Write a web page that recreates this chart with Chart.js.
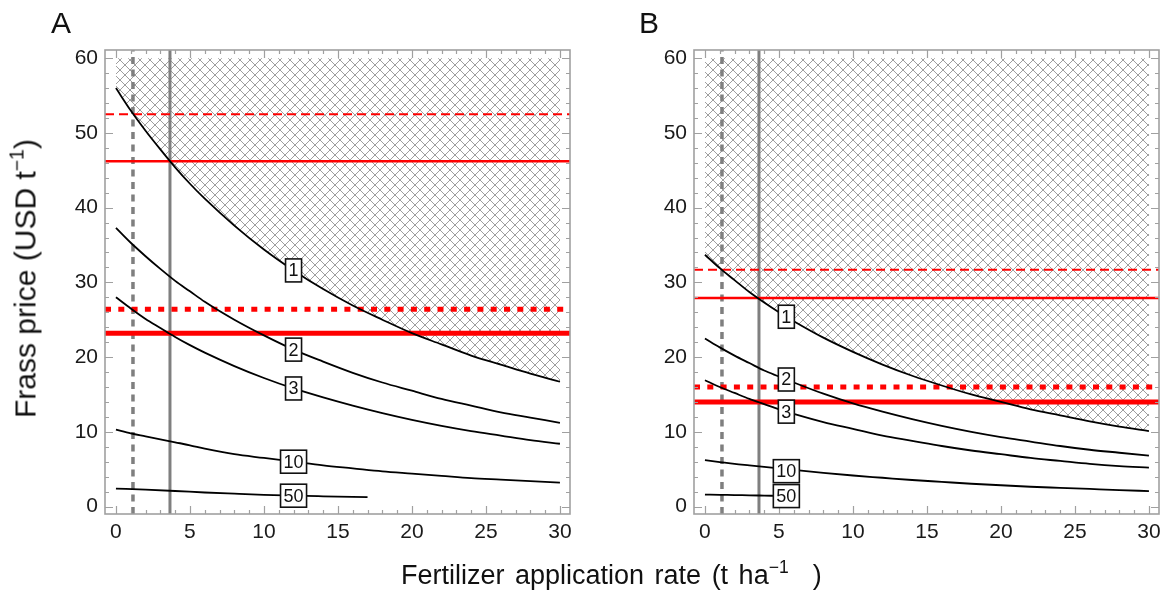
<!DOCTYPE html>
<html>
<head>
<meta charset="utf-8">
<script src="https://cdn.jsdelivr.net/npm/chart.js@4.4.1/dist/chart.umd.min.js"></script>
<style>
  body { margin: 0; background: #fff; }
  #wrap { position: relative; width: 1166px; height: 590px; font-family: "Liberation Sans", Arial, sans-serif; color: #111; }
  canvas { position: absolute; top: 0; }
  .panel { position: absolute; top: 8px; font-size: 30px; line-height: 30px; }
  .sup { font-size: 0.65em; position: relative; top: -0.6em; }
  #ytitle { position: absolute; left: -128px; top: 261px; width: 310px; text-align: center; font-size: 30px; line-height: 32px; white-space: nowrap; transform: rotate(-90deg); }
  #xtitle { position: absolute; left: 401px; top: 559px; font-size: 27px; line-height: 32px; white-space: nowrap; word-spacing: 3px; }
</style>
</head>
<body>
<div id="wrap">
  <canvas id="chartA" width="583" height="590" style="left:0"></canvas>
  <canvas id="chartB" width="583" height="590" style="left:583px"></canvas>
  <div class="panel" style="left:51px">A</div>
  <div class="panel" style="left:639px">B</div>
  <div id="ytitle">Frass price (USD t<span class="sup">−1</span>)</div>
  <div id="xtitle">Fertilizer application rate (t ha<span class="sup">−1</span><span style="margin-left:24px">)</span></div>
</div>
<script>
// application rate samples (t/ha)
const xs = [0, 1, 2, 3, 4, 5, 6, 8, 10, 12, 14, 16, 18, 20, 22, 24, 26, 28, 30];

// panel A curves (break-even frass price, USD/t)
const curveA1 = [56, 53.0, 50.3, 47.8, 45.4, 43.2, 41.2, 37.6, 34.4, 31.6, 29.1, 26.9, 25.0, 23.2, 21.7, 20.2, 19.0, 17.8, 16.7];
const curveA2 = [37.3, 35.3, 33.5, 31.8, 30.2, 28.8, 27.4, 25.0, 22.9, 21.0, 19.4, 17.9, 16.6, 15.5, 14.4, 13.5, 12.6, 11.9, 11.2];
const curveA3 = [28.0, 26.5, 25.1, 23.9, 22.7, 21.6, 20.6, 18.8, 17.2, 15.8, 14.6, 13.5, 12.5, 11.6, 10.8, 10.1, 9.5, 8.9, 8.4];
const curveA10 = [10.3, 9.8, 9.4, 9.0, 8.6, 8.2, 7.75, 7.0, 6.5, 6.0, 5.5, 5.1, 4.7, 4.4, 4.1, 3.8, 3.6, 3.4, 3.2];
const xsA50 = [0, 2, 4, 6, 8, 10, 12, 14, 17];
const curveA50 = [2.4, 2.25, 2.08, 1.88, 1.72, 1.57, 1.45, 1.37, 1.27];

// panel B curves
const curveB1 = [33.7, 31.9, 30.3, 28.7, 27.3, 26.0, 24.8, 22.6, 20.7, 19.0, 17.5, 16.2, 15.0, 14.0, 13.0, 12.2, 11.4, 10.7, 10.1];
const curveB2 = [22.5, 21.3, 20.2, 19.2, 18.2, 17.4, 16.6, 15.1, 13.8, 12.7, 11.7, 10.8, 10.0, 9.3, 8.7, 8.1, 7.6, 7.2, 6.8];
const curveB3 = [16.9, 16.0, 15.2, 14.4, 13.7, 13.0, 12.4, 11.3, 10.4, 9.5, 8.8, 8.1, 7.5, 7.0, 6.5, 6.1, 5.7, 5.4, 5.2];
const curveB10 = [6.2, 5.95, 5.7, 5.5, 5.3, 5.1, 4.9, 4.5, 4.15, 3.85, 3.55, 3.3, 3.05, 2.85, 2.65, 2.5, 2.35, 2.2, 2.07];
const xsB50 = [0, 1, 2, 3, 4, 5, 5.5];
const curveB50 = [1.6, 1.57, 1.53, 1.5, 1.46, 1.42, 1.4];

const curveNames = ['1', '2', '3', '10', '50'];

// horizontal red price lines: thin dashed, thin solid, thick dotted, thick solid
const redA = [52.5, 46.2, 26.4, 23.2];
const redB = [31.7, 27.9, 16.0, 14.0];
// vertical gray rate lines: dashed, solid
const rates = [1.15, 3.65];

const hatchTop = 60;
const xTicks = [0, 5, 10, 15, 20, 25, 30];
const yTicks = [0, 10, 20, 30, 40, 50, 60];
const xMin = -0.74, xMax = 30.68, yMin = -1, yMax = 61.1;

function hatch() {
    const s = 10;
    const c = document.createElement('canvas');
    c.width = s; c.height = s;
    const g = c.getContext('2d');
    g.strokeStyle = 'rgba(110,110,110,0.75)';
    g.lineWidth = 0.9;
    g.beginPath();
    g.moveTo(-1, -1); g.lineTo(s + 1, s + 1);
    g.moveTo(s + 1, -1); g.lineTo(-1, s + 1);
    g.stroke();
    return g.createPattern(c, 'repeat');
}

const pts = (xv, yv) => xv.map((x, i) => ({ x: x, y: yv[i] }));

// frame + inward ticks on all four sides
const framePlugin = {
    id: 'frame',
    afterDatasetsDraw(chart) {
        const { ctx, chartArea: a, scales: { x, y } } = chart;
        ctx.save();
        ctx.strokeStyle = '#a0a0a0';
        ctx.lineWidth = 1.2;
        ctx.beginPath();
        for (let v = 0; v <= 30; v++) {
            const px = Math.round(x.getPixelForValue(v)) + 0.5;
            const len = v % 5 === 0 ? 8 : 4;
            ctx.moveTo(px, a.bottom); ctx.lineTo(px, a.bottom - len);
            ctx.moveTo(px, a.top); ctx.lineTo(px, a.top + len);
        }
        for (let v = 0; v <= 60; v += 2) {
            const py = Math.round(y.getPixelForValue(v)) + 0.5;
            const len = v % 10 === 0 ? 8 : 4;
            ctx.moveTo(a.left, py); ctx.lineTo(a.left + len, py);
            ctx.moveTo(a.right, py); ctx.lineTo(a.right - len, py);
        }
        ctx.stroke();
        ctx.lineWidth = 1.6;
        ctx.strokeRect(a.left, a.top, a.right - a.left, a.bottom - a.top);
        ctx.restore();
    }
};

// boxed curve labels
const labelPlugin = {
    id: 'curveLabels',
    afterDatasetsDraw(chart, args, opts) {
        const { ctx, scales: { x, y } } = chart;
        ctx.save();
        ctx.font = '18px "Liberation Sans", Arial, sans-serif';
        ctx.textAlign = 'center';
        ctx.textBaseline = 'middle';
        opts.curves.forEach((c, i) => {
            const lx = Math.min(opts.at, c.xs[c.xs.length - 1]);
            let ly = c.ys[c.ys.length - 1];
            for (let k = 1; k < c.xs.length; k++) {
                if (c.xs[k] >= lx) {
                    const t = (lx - c.xs[k - 1]) / (c.xs[k] - c.xs[k - 1]);
                    ly = c.ys[k - 1] + t * (c.ys[k] - c.ys[k - 1]);
                    break;
                }
            }
            const px = x.getPixelForValue(lx), py = y.getPixelForValue(ly) + (opts.shift[i] || 0);
            const w = ctx.measureText(c.name).width + 6, h = 23;
            ctx.fillStyle = '#fff';
            ctx.fillRect(px - w / 2, py - h / 2, w, h);
            ctx.strokeStyle = '#111';
            ctx.lineWidth = 1.6;
            ctx.strokeRect(px - w / 2, py - h / 2, w, h);
            ctx.fillStyle = '#111';
            ctx.fillText(c.name, px, py + 1);
        });
        ctx.restore();
    }
};

function makePanel(id, curves, red, yAxisWidth, rightPad, labelAt, shift) {
    const ctx = document.getElementById(id).getContext('2d');
    const datasets = [];
    curves.forEach((c, i) => {
        datasets.push({
            data: pts(c.xs, c.ys),
            borderColor: '#000',
            borderWidth: 1.8,
            cubicInterpolationMode: 'monotone',
            fill: i === 0 ? { value: hatchTop } : false,
            backgroundColor: i === 0 ? hatch() : 'transparent',
            order: 1
        });
    });
    const redStyles = [
        { w: 2, dash: [9, 5] },
        { w: 2.5, dash: [] },
        { w: 5, dash: [6, 7.3] },
        { w: 5, dash: [] }
    ];
    red.forEach((v, i) => {
        datasets.push({
            data: [{ x: xMin, y: v }, { x: xMax, y: v }],
            borderColor: '#ff0000',
            borderWidth: redStyles[i].w,
            borderDash: redStyles[i].dash,
            borderCapStyle: 'butt',
            fill: false,
            order: 2
        });
    });
    rates.forEach((v, i) => {
        datasets.push({
            data: [{ x: v, y: yMin }, { x: v, y: yMax }],
            borderColor: '#7f7f7f',
            borderWidth: i === 0 ? 3.5 : 3,
            borderDash: i === 0 ? [7, 5.5] : [],
            borderCapStyle: 'butt',
            fill: false,
            order: 3
        });
    });

    return new Chart(ctx, {
        type: 'line',
        data: { datasets: datasets },
        plugins: [framePlugin, labelPlugin],
        options: {
            responsive: false,
            animation: false,
            elements: { point: { radius: 0 } },
            layout: { padding: { top: 50, right: rightPad, bottom: 36, left: 0 } },
            plugins: {
                legend: { display: false },
                tooltip: { enabled: false },
                filler: { drawTime: 'beforeDatasetsDraw' },
                curveLabels: { curves: curves, at: labelAt, shift: shift }
            },
            scales: {
                x: {
                    type: 'linear',
                    min: xMin,
                    max: xMax,
                    grid: { display: false, drawTicks: false },
                    border: { display: false },
                    afterBuildTicks: s => { s.ticks = xTicks.map(v => ({ value: v })); },
                    afterFit: s => { s.height = 40; s.paddingLeft = 0; s.paddingRight = 0; },
                    ticks: {
                        padding: 6,
                        color: '#1a1a1a',
                        font: { size: 21, family: '"Liberation Sans", Arial, sans-serif' }
                    }
                },
                y: {
                    type: 'linear',
                    min: yMin,
                    max: yMax,
                    grid: { display: false, drawTicks: false },
                    border: { display: false },
                    afterBuildTicks: s => { s.ticks = yTicks.map(v => ({ value: v })); },
                    afterFit: s => { s.width = yAxisWidth; s.paddingTop = 0; s.paddingBottom = 0; },
                    ticks: {
                        padding: 7,
                        color: '#1a1a1a',
                        font: { size: 21, family: '"Liberation Sans", Arial, sans-serif' }
                    }
                }
            }
        }
    });
}

const curvesA = [
    { name: curveNames[0], xs: xs, ys: curveA1 },
    { name: curveNames[1], xs: xs, ys: curveA2 },
    { name: curveNames[2], xs: xs, ys: curveA3 },
    { name: curveNames[3], xs: xs, ys: curveA10 },
    { name: curveNames[4], xs: xsA50, ys: curveA50 }
];
const curvesB = [
    { name: curveNames[0], xs: xs, ys: curveB1 },
    { name: curveNames[1], xs: xs, ys: curveB2 },
    { name: curveNames[2], xs: xs, ys: curveB3 },
    { name: curveNames[3], xs: xs, ys: curveB10 },
    { name: curveNames[4], xs: xsB50, ys: curveB50 }
];

makePanel('chartA', curvesA, redA, 105, 13, 12, [0, 0, 0, 0, 0]);
makePanel('chartB', curvesB, redB, 111, 7, 5.5, [0, 0, 0, 2, 0]);
</script>
</body>
</html>
